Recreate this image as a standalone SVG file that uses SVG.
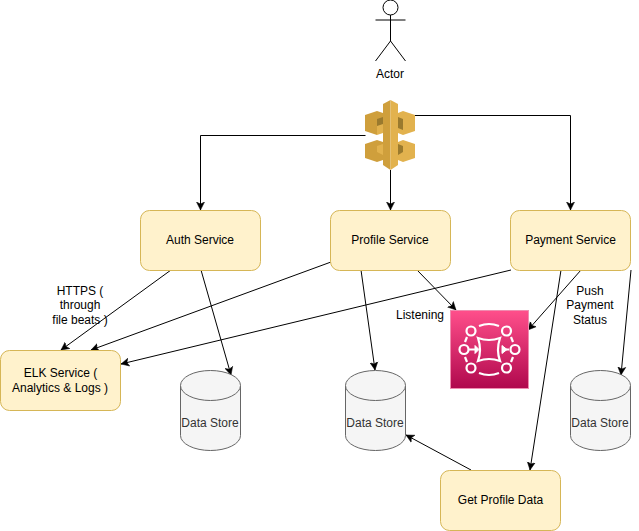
<svg xmlns="http://www.w3.org/2000/svg" width="639" height="531" viewBox="0 0 639 531">
<style>
text{font-family:"Liberation Sans",Arial,sans-serif;font-size:12px;fill:#000;text-anchor:middle}
.box{fill:#fff2cc;stroke:#d6b656}
.cyl{fill:#f5f5f5;stroke:#666}
.cyl-t{fill:#333}
.c{fill:none;stroke:#000;marker-end:url(#a)}
.i{fill:none;stroke:#fff;stroke-width:2.200}
</style>
<defs>
<marker id="a" markerUnits="userSpaceOnUse" markerWidth="10" markerHeight="10" refX="8" refY="5" orient="auto" viewBox="0 0 10 10"><path d="M0 1L8 5L0 9L2 5Z" fill="#000" stroke="#000" stroke-width="0.500"/></marker>
<linearGradient id="g" x1="0" y1="1" x2="0" y2="0"><stop offset="0" stop-color="#B0084D"/><stop offset="1" stop-color="#FF4F8B"/></linearGradient>
</defs>
<g id="connectors">
<path class="c" d="M365.500 135.500H200.500V210"/>
<path class="c" d="M415 115.500H570.500V210"/>
<path class="c" d="M390.500 170V210"/>
<path class="c" d="M171 270L61 350"/>
<path class="c" d="M201 270L231 375"/>
<path class="c" d="M331 262L91 350"/>
<path class="c" d="M361 270L375 370"/>
<path class="c" d="M417 270L456 310"/>
<path class="c" d="M511 270L121 364"/>
<path class="c" d="M561 270L530 470"/>
<path class="c" d="M581 270L528 330"/>
<path class="c" d="M631 270L621 375"/>
<path class="c" d="M471 470L406 435"/>
</g>
<g id="actor" fill="none" stroke="#000">
<circle cx="390.500" cy="7.500" r="7.500" fill="#fff"/>
<path d="M390.500 15V41M375.500 20H405.500M390.500 41L375.500 61M390.500 41L405.500 61"/>
<text x="390" y="78" stroke="none">Actor</text>
</g>
<g id="gateway">
<path d="M365 115L377 111L383 113V126L377 125V135L365 131Z" fill="#CF9F3C"/>
<path d="M377 119L383 117V128L377 130Z" fill="#9A7A2E"/>
<path d="M377 135L383 133V124L377 126Z" fill="#E2B24E"/>
<path d="M365 144L377 140L383 142V160L377 162L365 158Z" fill="#CF9F3C"/>
<path d="M377 146L383 144V155L377 152Z" fill="#E2B24E"/>
<path d="M415 115L403 111L398 113V133L403 135L415 131Z" fill="#E2B24E"/>
<path d="M403 119L398 117V128L403 130Z" fill="#9A7A2E"/>
<path d="M415 144L403 140L398 142V160L403 162L415 158Z" fill="#E2B24E"/>
<path d="M403 146L398 144V155L403 152Z" fill="#9A7A2E"/>
<path d="M390.500 100L383 104V165L390.500 170Z" fill="#CF9F3C"/>
<path d="M390.500 100L398 104V165L390.500 170Z" fill="#E2B24E"/>
</g>
<g id="auth"><rect class="box" x="140.500" y="210.500" width="120" height="60" rx="9"/><text x="200" y="244">Auth Service</text></g>
<g id="profile"><rect class="box" x="330.500" y="210.500" width="120" height="60" rx="9"/><text x="390" y="244">Profile Service</text></g>
<g id="payment"><rect class="box" x="510.500" y="210.500" width="120" height="60" rx="9"/><text x="570.500" y="244">Payment Service</text></g>
<g id="elk"><rect class="box" x="0.500" y="350.500" width="120" height="60" rx="9"/><text x="60.500" y="377">ELK Service (</text><text x="60" y="392">Analytics &amp; Logs )</text></g>
<g id="getprofile"><rect class="box" x="440.500" y="470.500" width="120" height="60" rx="9"/><text x="500.500" y="504">Get Profile Data</text></g>
<g id="store1"><path class="cyl" d="M180.500 385.500A30 15 0 0 1 240.500 385.500V435.500A30 15 0 0 1 180.500 435.500Z"/><path class="cyl" d="M180.500 385.500A30 15 0 0 0 240.500 385.500"/><text class="cyl-t" x="210" y="427">Data Store</text></g>
<g id="store2"><path class="cyl" d="M345.500 385.500A30 15 0 0 1 405.500 385.500V435.500A30 15 0 0 1 345.500 435.500Z"/><path class="cyl" d="M345.500 385.500A30 15 0 0 0 405.500 385.500"/><text class="cyl-t" x="375" y="427">Data Store</text></g>
<g id="store3"><path class="cyl" d="M570.500 385.500A30 15 0 0 1 630.500 385.500V435.500A30 15 0 0 1 570.500 435.500Z"/><path class="cyl" d="M570.500 385.500A30 15 0 0 0 630.500 385.500"/><text class="cyl-t" x="600" y="427">Data Store</text></g>
<g id="kinesis">
<rect x="450.500" y="310.500" width="78" height="78" fill="url(#g)" stroke="#F08CB0"/>
<circle class="i" cx="471" cy="331" r="4.500"/><circle class="i" cx="506.500" cy="331" r="4.500"/>
<circle class="i" cx="464" cy="349.500" r="4.500"/><circle class="i" cx="515" cy="349.500" r="4.500"/>
<circle class="i" cx="471" cy="368" r="4.500"/><circle class="i" cx="506.500" cy="368" r="4.500"/>
<path class="i" d="M479 326Q489 322 499 326M479 373Q489 377 499 373M467 337L465 342M511 337L513 342M467 362L465 357M511 362L513 357"/>
<path class="i" d="M478 338Q489 342 500 338Q496 350 500 361Q489 357 478 361Q482 350 478 338Z"/>
<path class="i" d="M469 349.500H476M503 349.500H509"/>
<path d="M475 345.500L479 349.500L475 353.500ZM502 345.500L507 349.500L502 353.500Z" fill="#fff" stroke="#fff"/>
</g>
<g id="labels">
<text x="80" y="295">HTTPS (</text><text x="80" y="309">through</text><text x="80" y="324">file beats )</text>
<text x="420" y="319">Listening</text>
<text x="590" y="295">Push</text><text x="590" y="309">Payment</text><text x="590" y="324">Status</text>
</g>
</svg>
